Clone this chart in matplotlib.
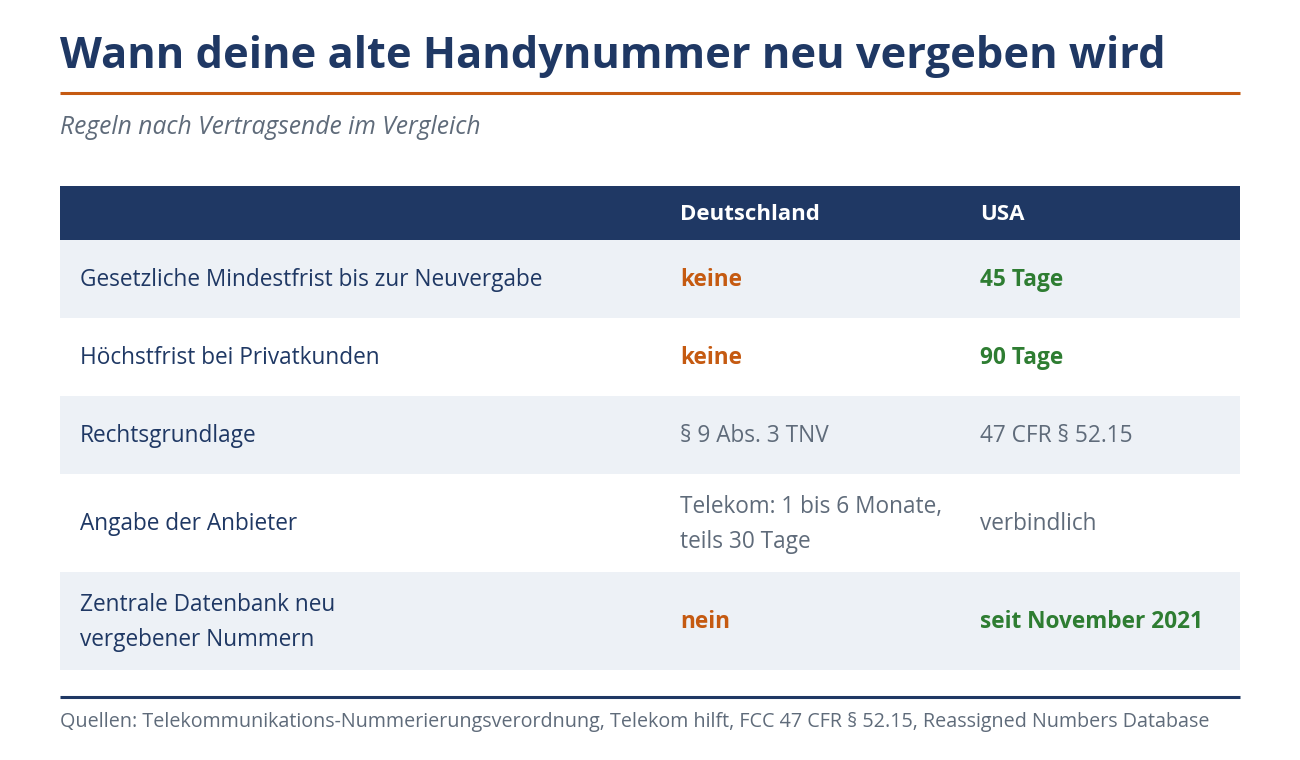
import matplotlib
matplotlib.use("Agg")
import matplotlib.pyplot as plt
from matplotlib.patches import Rectangle

plt.rcParams['font.family'] = ['Open Sans', 'DejaVu Sans']

title = "Wann deine alte Handynummer neu vergeben wird"
subtitle = "Regeln nach Vertragsende im Vergleich"
source = "Quellen: Telekommunikations-Nummerierungsverordnung, Telekom hilft, FCC 47 CFR § 52.15, Reassigned Numbers Database"

columns = ["", "Deutschland", "USA"]
row_labels = [
    "Gesetzliche Mindestfrist bis zur Neuvergabe",
    "Höchstfrist bei Privatkunden",
    "Rechtsgrundlage",
    "Angabe der Anbieter",
    "Zentrale Datenbank neu\nvergebener Nummern",
]
de_values = ["keine", "keine", "§ 9 Abs. 3 TNV", "Telekom: 1 bis 6 Monate,\nteils 30 Tage", "nein"]
us_values = ["45 Tage", "90 Tage", "47 CFR § 52.15", "verbindlich", "seit November 2021"]
highlight_rows = [0, 1, 4]

NAVY = "#1f3864"
ORANGE = "#c55a11"
GREEN = "#2e7d32"
GRAY = "#5f6b7a"
LIGHT = "#edf1f6"

fig = plt.figure(figsize=(13, 7.6), dpi=100)
ax = fig.add_axes([0, 0, 1, 1])
ax.set_xlim(0, 1300)
ax.set_ylim(760, 0)
ax.axis("off")

left, right = 60, 1240
col_x = [80, 680, 980]
fs = 16.3
ls = 1.58

ax.text(left, 56, title, fontsize=31.2, fontweight="bold", color=NAVY, va="center")
ax.plot([left, right], [93, 93], color=ORANGE, lw=2.2, solid_capstyle="butt")
ax.text(left, 127, subtitle, fontsize=17.7, style="italic", color=GRAY, va="center")

# header
top = 186
ax.add_patch(Rectangle((left, top), right - left, 54, color=NAVY, lw=0))
for x, c in zip(col_x, columns):
    ax.text(x, top + 28, c, fontsize=16, fontweight="bold", color="white", va="center")

y = top + 54
for i, (lab, de, us) in enumerate(zip(row_labels, de_values, us_values)):
    lines = max(s.count("\n") + 1 for s in (lab, de, us))
    h = 78 if lines == 1 else 98
    if i % 2 == 0:
        ax.add_patch(Rectangle((left, y), right - left, h, color=LIGHT, lw=0))
    cy = y + h / 2 + 1.5
    ax.text(col_x[0], cy, lab, fontsize=fs, color=NAVY, va="center", linespacing=ls)
    if i in highlight_rows:
        ax.text(col_x[1], cy, de, fontsize=fs, fontweight="bold", color=ORANGE, va="center")
        ax.text(col_x[2], cy, us, fontsize=fs, fontweight="bold", color=GREEN, va="center")
    else:
        ax.text(col_x[1], cy, de, fontsize=fs, color=GRAY, va="center", linespacing=ls)
        ax.text(col_x[2], cy, us, fontsize=fs, color=GRAY, va="center", linespacing=ls)
    y += h

ax.plot([left, right], [697, 697], color=NAVY, lw=2.2, solid_capstyle="butt")
ax.text(left, 722, source, fontsize=14.2, color=GRAY, va="center")

fig.savefig("out.png", dpi=100, facecolor="white")
